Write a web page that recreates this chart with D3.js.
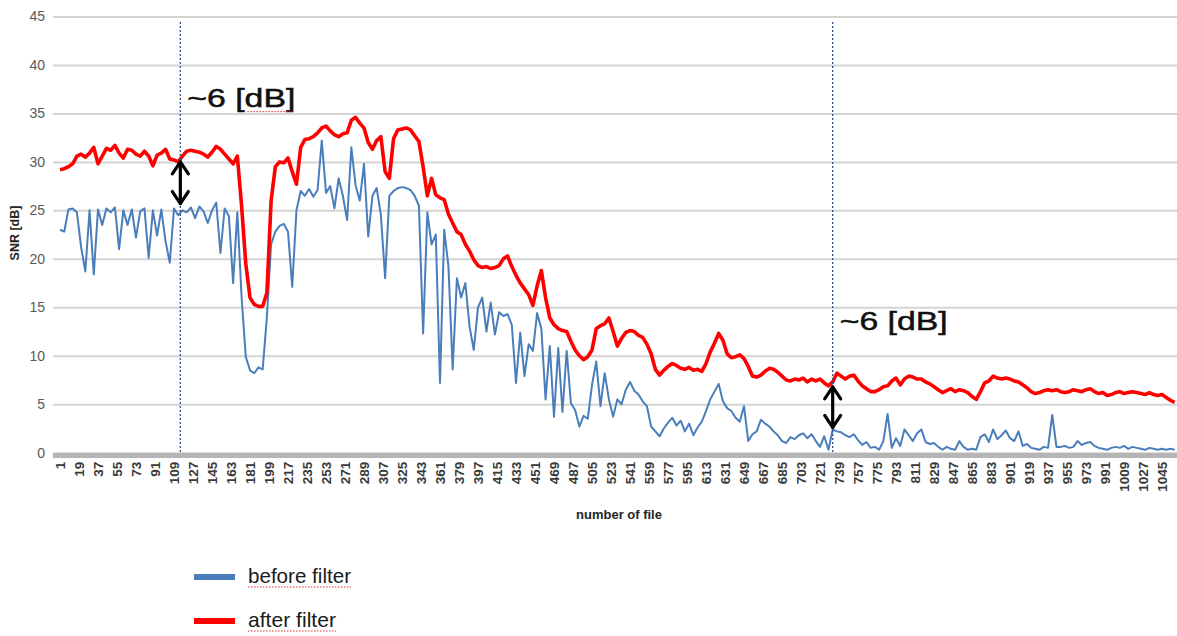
<!DOCTYPE html>
<html><head><meta charset="utf-8">
<script src="https://cdn.jsdelivr.net/npm/d3@7"></script>
<style>
html,body{margin:0;padding:0;background:#fff;}
svg{display:block;font-family:"Liberation Sans",Arial,sans-serif;}
</style>
</head><body>
<svg id="chart" width="1177" height="636"></svg>
<script>
// ---------- data (one value every 4 files) ----------
const fileStep = 4;
const afterFilter = [
29.2,29.3,29.5,29.8,30.6,30.8,30.5,30.9,31.5,29.8,
30.6,31.4,31.2,31.7,30.9,30.4,31.3,31.2,30.8,30.6,
31.1,30.6,29.6,30.7,30.9,31.3,30.3,30.2,30.0,30.6,
31.1,31.2,31.1,31.0,30.8,30.5,31.0,31.6,31.3,30.8,
30.3,29.8,30.6,25.5,19.5,16.0,15.3,15.1,15.1,16.5,
26.0,29.5,30.0,29.9,30.4,29.0,27.7,31.5,32.3,32.4,
32.6,33.0,33.5,33.7,33.2,32.8,32.6,32.9,33.0,34.3,
34.6,34.0,33.5,32.0,31.3,32.2,32.6,29.0,28.3,32.4,
33.3,33.4,33.5,33.3,32.7,32.1,29.5,26.5,28.3,26.6,
26.3,26.1,24.6,23.7,22.8,22.5,21.5,20.8,19.9,19.3,
19.1,19.2,19.0,19.1,19.3,20.0,20.3,19.2,18.3,17.5,
16.9,16.3,15.2,17.2,18.8,16.0,13.9,13.2,12.8,12.6,
12.5,11.5,10.6,10.0,9.6,9.9,10.6,12.8,13.1,13.3,
13.9,12.5,11.0,11.8,12.4,12.6,12.5,12.1,11.9,11.2,
10.2,8.6,8.0,8.5,8.9,9.2,9.0,8.7,8.6,8.8,
8.5,8.6,8.4,9.2,10.4,11.3,12.3,11.6,10.2,9.8,
9.9,10.1,9.7,8.9,7.9,7.8,8.0,8.4,8.7,8.6,
8.3,7.9,7.5,7.4,7.6,7.5,7.7,7.3,7.6,7.4,
7.6,7.2,6.9,7.3,8.2,7.9,7.6,7.9,8.0,7.4,
6.9,6.6,6.3,6.3,6.5,6.8,6.9,7.4,7.7,7.0,
7.6,7.9,7.8,7.6,7.6,7.3,7.1,6.8,6.5,6.2,
6.4,6.6,6.3,6.5,6.4,6.2,5.8,5.5,6.3,7.2,
7.4,7.9,7.7,7.6,7.7,7.6,7.4,7.3,7.0,6.7,
6.3,6.1,6.2,6.4,6.5,6.4,6.5,6.3,6.2,6.3,
6.5,6.4,6.3,6.5,6.6,6.3,6.1,6.2,5.9,6.0,
6.2,6.3,6.1,6.2,6.3,6.2,6.1,6.0,6.2,6.0,
5.9,6.0,5.7,5.4,5.2
];
const beforeFilter = [
23.0,22.8,25.1,25.2,24.8,21.2,18.7,25.0,18.4,25.1,
23.5,25.2,24.8,25.3,21.0,25.0,23.5,25.1,22.2,24.9,
25.2,20.1,25.0,22.4,25.1,21.8,19.6,25.2,24.5,25.0,
24.8,25.3,24.2,25.4,24.9,23.7,25.0,25.8,20.6,25.2,
24.4,17.5,24.8,16.1,9.9,8.5,8.2,8.8,8.6,14.0,
21.5,22.8,23.4,23.6,22.8,17.1,25.0,27.0,26.5,27.2,
26.4,27.1,32.2,26.8,27.5,25.2,28.3,26.5,24.0,31.5,
27.6,26.0,29.8,22.3,26.5,27.3,24.5,18.0,26.5,27.0,
27.3,27.4,27.3,27.1,26.5,25.5,12.3,24.8,21.5,22.5,
7.2,23.0,19.2,8.6,18.0,16.0,17.5,13.0,10.6,15.0,
16.0,12.5,15.5,12.2,14.5,14.1,14.3,13.2,7.2,12.4,
7.9,11.2,10.5,14.4,12.8,5.5,11.0,3.7,10.8,4.2,
10.5,5.1,4.4,2.7,3.8,3.5,7.0,9.4,4.8,8.2,
5.5,3.7,5.5,5.0,6.5,7.3,6.4,6.0,5.3,4.8,
2.7,2.2,1.7,2.5,3.1,3.6,2.8,3.3,2.2,3.0,
1.8,2.6,3.2,4.3,5.5,6.3,7.1,5.3,4.6,4.3,
3.6,3.2,4.8,1.2,1.9,2.2,3.4,3.0,2.7,2.2,
1.8,1.2,1.0,1.6,1.4,1.8,2.0,1.5,1.9,1.2,
0.6,1.7,0.3,2.4,2.2,2.1,1.8,1.6,1.9,1.3,
0.8,1.1,0.5,0.6,0.3,1.2,4.0,0.5,1.5,0.7,
2.4,1.8,1.2,2.0,2.4,1.1,0.9,1.0,0.6,0.3,
0.6,0.4,0.3,1.2,0.6,0.3,0.4,0.3,1.6,1.9,
1.1,2.4,1.4,1.8,2.3,1.5,1.2,2.2,0.7,0.9,
0.5,0.4,0.3,0.6,0.5,3.9,0.6,0.6,0.7,0.5,
0.6,1.2,0.8,1.0,1.1,0.7,0.5,0.4,0.3,0.5,
0.6,0.5,0.7,0.4,0.6,0.5,0.4,0.3,0.5,0.4,
0.3,0.4,0.3,0.4,0.3
];
const files = afterFilter.map((_, i) => 1 + i * fileStep);
const yTicks = [0,5,10,15,20,25,30,35,40,45];
const xTickLabels = [1,19,37,55,73,91,109,127,145,163,181,199,217,235,253,271,289,307,325,343,
  361,379,397,415,433,451,469,487,505,523,541,559,577,595,613,631,649,667,685,703,721,739,757,
  775,793,811,829,847,865,883,901,919,937,955,973,991,1009,1027,1045];
const markerFiles = [115, 733];
const gapTop = [30.1, 6.9];
const gapBottom = [25.6, 2.5];
const annotationText = ["~6 [dB]", "~6 [dB]"];
const annotationLevel = [35.7, 12.7];
const seriesNames = ["before filter", "after filter"];
const seriesColors = ["#4a7ebb", "#ff0000"];
const yTitle = "SNR [dB]";
const xTitle = "number of file";

// ---------- drawing ----------
const svg = d3.select("#chart");
const plotLeft = 53, plotRight = 1177;
const x = d3.scaleLinear().domain([1, 1057]).range([60, 1174.7]);
const y = d3.scaleLinear().domain([0, 45]).range([452.7, 16.5]);

// gridlines + y labels
const gy = svg.append("g").attr("transform", `translate(${plotLeft},0)`)
  .call(d3.axisLeft(y).tickValues(yTicks).tickSize(-(plotRight - plotLeft)).tickPadding(8));
gy.select(".domain").remove();
gy.selectAll(".tick line").attr("stroke", "#d4d4d4").attr("stroke-width", 2);
gy.selectAll(".tick text").attr("fill", "#595959").attr("font-size", 14);

// x axis band
svg.append("line").attr("x1", plotLeft).attr("x2", plotRight)
  .attr("y1", y(0) + 2.8).attr("y2", y(0) + 2.8)
  .attr("stroke", "#b5b5b5").attr("stroke-width", 5);

// x labels
const gx = svg.append("g").attr("transform", `translate(0,${y(0) + 4})`)
  .call(d3.axisBottom(x).tickValues(xTickLabels).tickSize(0).tickFormat(d3.format("d")));
gx.select(".domain").remove();
gx.selectAll(".tick text")
  .attr("transform", "rotate(-90)").attr("text-anchor", "end")
  .attr("x", -5).attr("y", 0).attr("dy", "0.36em")
  .attr("fill", "#3a3a3a").attr("font-size", 13.5).attr("font-weight", "bold");

// series lines
const line = d3.line().x((d, i) => x(files[i])).y(d => y(d)).curve(d3.curveLinear);
svg.append("path").datum(beforeFilter).attr("d", line)
  .attr("fill", "none").attr("stroke", seriesColors[0]).attr("stroke-width", 2)
  .attr("stroke-linejoin", "round");
svg.append("path").datum(afterFilter).attr("d", line)
  .attr("fill", "none").attr("stroke", seriesColors[1]).attr("stroke-width", 3.6)
  .attr("stroke-linejoin", "round");

// dotted markers, arrows, annotations
markerFiles.forEach((f, k) => {
  const mx = x(f);
  svg.append("line").attr("x1", mx).attr("x2", mx).attr("y1", 22).attr("y2", y(0))
    .attr("stroke", "#2f4f8f").attr("stroke-width", 1.3).attr("stroke-dasharray", "2,2");
  const t = y(gapTop[k]), b = y(gapBottom[k]);
  const g = svg.append("g").attr("stroke", "#000").attr("stroke-width", 3.2)
    .attr("fill", "none").attr("stroke-linecap", "round").attr("stroke-linejoin", "round");
  g.append("line").attr("x1", mx).attr("x2", mx).attr("y1", t + 1).attr("y2", b - 1);
  g.append("path").attr("d", `M${mx - 8},${t + 13}L${mx},${t + 1}L${mx + 8},${t + 13}`);
  g.append("path").attr("d", `M${mx - 8},${b - 13}L${mx},${b - 1}L${mx + 8},${b - 13}`);
  const tx = mx + 7, ty = y(annotationLevel[k]);
  svg.append("text").attr("x", tx).attr("y", ty)
    .attr("font-size", 26).attr("fill", "#111").attr("stroke", "#111").attr("stroke-width", 0.5)
    .attr("textLength", 108).attr("lengthAdjust", "spacingAndGlyphs")
    .text(annotationText[k]);
  if (k === 0) {
    svg.append("line").attr("x1", tx + 60).attr("x2", tx + 106).attr("y1", ty + 5).attr("y2", ty + 5)
      .attr("stroke", "#e03030").attr("stroke-width", 1).attr("stroke-dasharray", "1.5,1.5");
  }
});

// axis titles
svg.append("text").attr("transform", `translate(19,233) rotate(-90)`)
  .attr("text-anchor", "middle").attr("font-size", 12.5).attr("font-weight", "bold")
  .attr("fill", "#262626").text(yTitle);
svg.append("text").attr("x", 619).attr("y", 519)
  .attr("text-anchor", "middle").attr("font-size", 13).attr("font-weight", "bold")
  .attr("fill", "#262626").text(xTitle);

// legend
const legendY = [577, 621];
const legendW = [103, 88];
seriesNames.forEach((name, k) => {
  svg.append("line").attr("x1", 194).attr("x2", 235).attr("y1", legendY[k]).attr("y2", legendY[k])
    .attr("stroke", seriesColors[k]).attr("stroke-width", 6);
  svg.append("text").attr("x", 248).attr("y", legendY[k] + 6)
    .attr("font-size", 21).attr("fill", "#1a1a1a")
    .attr("textLength", legendW[k]).attr("lengthAdjust", "spacingAndGlyphs").text(name);
  svg.append("line").attr("x1", 248).attr("x2", 248 + legendW[k]).attr("y1", legendY[k] + 10).attr("y2", legendY[k] + 10)
    .attr("stroke", "#e03030").attr("stroke-width", 1).attr("stroke-dasharray", "1.5,1.5");
});
</script>
</body></html>
